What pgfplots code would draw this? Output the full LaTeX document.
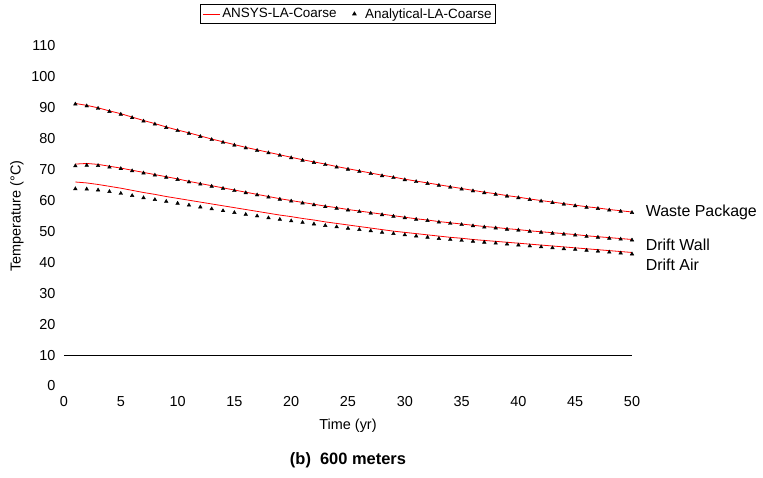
\documentclass[border=0pt]{standalone}
\usepackage{fontspec}
\setmainfont{Liberation Sans}
\usepackage{pgfplots}
\pgfplotsset{compat=1.18}
\pgfplotstableread{
x wpa dwa daa
1 91.2 71.2 63.8
2 90.6 71.4 63.7
3 89.8 71.3 63.4
4 88.8 70.8 62.9
5 87.9 70.3 62.3
6 86.8 69.6 61.6
7 85.7 68.9 60.9
8 84.7 68.2 60.3
9 83.6 67.5 59.7
10 82.6 66.8 59.1
11 81.7 66.0 58.5
12 80.7 65.3 57.9
13 79.7 64.6 57.3
14 78.8 63.9 56.7
15 77.9 63.2 56.1
16 77.0 62.5 55.5
17 76.2 61.8 55.0
18 75.4 61.1 54.4
19 74.6 60.4 53.9
20 73.8 59.8 53.4
21 73.0 59.2 52.9
22 72.3 58.6 52.4
23 71.6 58.0 51.9
24 70.8 57.5 51.5
25 70.1 56.9 51.0
26 69.4 56.4 50.6
27 68.7 55.9 50.2
28 68.0 55.4 49.7
29 67.4 54.9 49.3
30 66.7 54.4 48.9
31 66.1 53.9 48.5
32 65.5 53.5 48.1
33 64.9 53.0 47.7
34 64.3 52.6 47.4
35 63.7 52.2 47.1
36 63.1 51.8 46.8
37 62.5 51.4 46.5
38 62.0 51.1 46.2
39 61.4 50.7 45.9
40 60.9 50.4 45.6
41 60.3 50.0 45.3
42 59.8 49.7 45.0
43 59.3 49.4 44.7
44 58.8 49.1 44.4
45 58.3 48.8 44.2
46 57.8 48.4 43.9
47 57.4 48.1 43.6
48 56.9 47.8 43.3
49 56.5 47.5 43.0
50 56.1 47.2 42.7
}\analytical
\pgfplotstableread{
x wp dw da
1 91.4 71.8 66.0
2 90.8 72.0 65.7
3 90.0 71.7 65.2
4 89.0 71.1 64.6
5 88.1 70.5 64.0
6 87.0 69.8 63.3
7 85.9 69.1 62.6
8 84.9 68.4 62.0
9 83.8 67.7 61.3
10 82.8 67.0 60.7
11 81.9 66.2 60.1
12 80.9 65.5 59.5
13 79.9 64.8 58.9
14 79.0 64.1 58.3
15 78.1 63.4 57.7
16 77.2 62.7 57.1
17 76.4 62.0 56.5
18 75.6 61.3 55.9
19 74.8 60.6 55.3
20 74.0 60.0 54.8
21 73.2 59.4 54.2
22 72.5 58.8 53.7
23 71.8 58.2 53.1
24 71.0 57.7 52.6
25 70.3 57.1 52.1
26 69.6 56.6 51.6
27 68.9 56.1 51.1
28 68.2 55.6 50.6
29 67.6 55.1 50.1
30 66.9 54.6 49.7
31 66.3 54.1 49.3
32 65.7 53.7 48.9
33 65.1 53.2 48.5
34 64.5 52.8 48.1
35 63.9 52.4 47.8
36 63.3 52.0 47.4
37 62.7 51.6 47.1
38 62.2 51.3 46.8
39 61.6 50.9 46.5
40 61.1 50.6 46.2
41 60.5 50.2 45.9
42 60.0 49.9 45.6
43 59.5 49.6 45.3
44 59.0 49.3 45.0
45 58.5 49.0 44.7
46 58.0 48.6 44.4
47 57.6 48.3 44.1
48 57.1 48.0 43.8
49 56.7 47.7 43.5
50 56.3 47.4 43.2
}\ansys
\begin{document}
\begin{tikzpicture}
\begin{axis}[
  scale only axis, width=568bp, height=340bp,
  xmin=0, xmax=50, ymin=0, ymax=110,
  xtick={0,5,...,50}, ytick={0,10,...,110},
  axis line style={draw=none}, major tick length=0pt,
  tick label style={font=\fontsize{14.5}{16}\selectfont},
  /pgf/number format/assume math mode=true,
  xticklabel style={yshift=-7bp},
  yticklabel style={xshift=-5bp},
  xlabel={Time (yr)}, ylabel={Temperature (°C)},
  label style={font=\fontsize{14.5}{16}\selectfont},
  xlabel style={at={(axis description cs:0.5,-0.118)}, anchor=center},
  ylabel style={at={(axis description cs:-0.083,0.5)}, anchor=center},
  clip=false,
  legend style={at={(axis description cs:0.5,1.1235)}, anchor=north, draw=black, line width=0.6pt,
    font=\fontsize{13.5}{15}\selectfont, inner sep=2pt,
    /tikz/every even column/.append style={column sep=14bp}},
  legend columns=2,
  legend cell align=left,
]
\addplot[black, line width=0.7pt, forget plot] coordinates {(0,10) (50,10)};
\addplot[red, line width=0.8pt, no marks] table[x=x,y=wp] {\ansys};
\addlegendentry{ANSYS-LA-Coarse}
\addplot[black, only marks, mark=triangle*, mark size=2.1pt] table[x=x,y=wpa] {\analytical};
\addlegendentry{\hspace{7bp}Analytical-LA-Coarse}
\addplot[red, line width=0.8pt, no marks, forget plot] table[x=x,y=dw] {\ansys};
\addplot[red, line width=0.8pt, no marks, forget plot] table[x=x,y=da] {\ansys};
\addplot[black, only marks, mark=triangle*, mark size=2.1pt, forget plot] table[x=x,y=dwa] {\analytical};
\addplot[black, only marks, mark=triangle*, mark size=2.1pt, forget plot] table[x=x,y=daa] {\analytical};
\node[anchor=west, inner sep=0pt, font=\fontsize{16}{18}\selectfont] at (axis cs:51.2,56.1) {Waste Package};
\node[anchor=west, inner sep=0pt, font=\fontsize{16}{18}\selectfont] at (axis cs:51.2,45.7) {Drift Wall};
\node[anchor=west, inner sep=0pt, font=\fontsize{16}{18}\selectfont] at (axis cs:51.2,39.2) {Drift Air};
\node[font=\bfseries\fontsize{16.5}{18}\selectfont] at (axis description cs:0.5,-0.218) {(b)\ \ 600 meters};
\end{axis}
\path ([shift={(-64bp,-91.2bp)}]current axis.south west) rectangle ([shift={(131bp,46bp)}]current axis.north east);
\end{tikzpicture}
\end{document}
